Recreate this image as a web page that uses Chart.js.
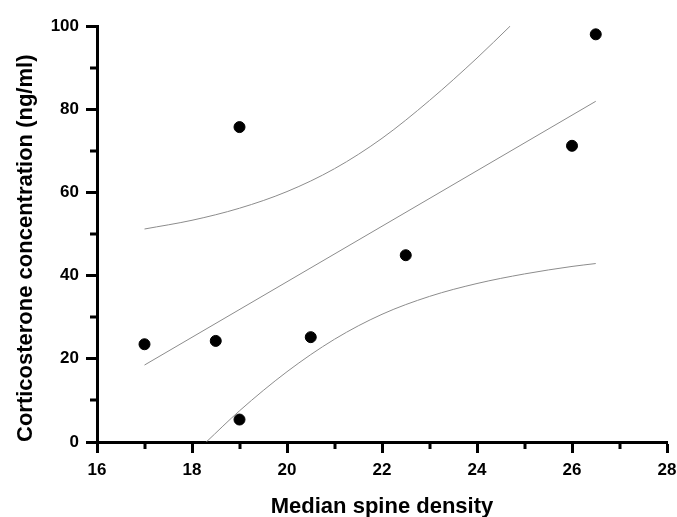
<!DOCTYPE html>
<html>
<head>
<meta charset="utf-8">
<script src="https://cdn.jsdelivr.net/npm/chart.js@4/dist/chart.umd.min.js"></script>
<style>
  html, body { margin: 0; padding: 0; background: #fff; }
  #wrap { width: 677px; height: 517px; }
</style>
</head>
<body>
<div id="wrap"><canvas id="spineChart" width="677" height="517"></canvas></div>
<script>
// measured points
const spineDensity = [17, 18.5, 19, 19, 20.5, 22.5, 26, 26.5];
const corticosterone = [23.5, 24.3, 5.4, 75.7, 25.2, 44.9, 71.2, 98.0];

// regression line and 95% bands
const fitX = [17, 26.5];
const fitY = [18.5, 81.9];
const upperX = [17, 18, 19, 20, 21, 22, 23, 24, 24.7];
const upperY = [51.2, 53.3, 56.2, 60.2, 65.7, 73.0, 82.1, 92.3, 100];
const lowerX = [18.3, 19, 20, 21, 22, 23, 24, 25, 26, 26.5];
const lowerY = [0, 7.5, 16.9, 24.7, 30.7, 35.0, 38.1, 40.4, 42.2, 42.9];

// axis ticks
const xMinorTicks = [17, 19, 21, 23, 25, 27];
const yMinorTicks = [10, 30, 50, 70, 90];

const toXY = (xs, ys) => xs.map((x, i) => ({ x: x, y: ys[i] }));

const minorTicks = {
    id: 'minorTicks',
    afterDraw(chart) {
        const { ctx, chartArea, scales: { x, y } } = chart;
        ctx.save();
        ctx.strokeStyle = '#000';
        ctx.lineWidth = 3;
        ctx.beginPath();
        xMinorTicks.forEach(v => {
            const px = Math.round(x.getPixelForValue(v));
            ctx.moveTo(px, chartArea.bottom);
            ctx.lineTo(px, chartArea.bottom + 7);
        });
        yMinorTicks.forEach(v => {
            const py = Math.round(y.getPixelForValue(v));
            ctx.moveTo(chartArea.left, py);
            ctx.lineTo(chartArea.left - 7, py);
        });
        ctx.stroke();
        ctx.restore();
    }
};

const bandStyle = {
    type: 'line',
    borderColor: '#8c8c8c',
    borderWidth: 1,
    pointRadius: 0,
    fill: false,
    cubicInterpolationMode: 'monotone'
};

const tickFont = { family: 'Liberation Sans, Arial, sans-serif', size: 17, weight: 'bold' };
const titleFont = { family: 'Liberation Sans, Arial, sans-serif', size: 22, weight: 'bold' };

new Chart(document.getElementById('spineChart'), {
    type: 'scatter',
    data: {
        datasets: [
            { ...bandStyle, label: 'Upper', data: toXY(upperX, upperY) },
            { ...bandStyle, label: 'Fit', data: toXY(fitX, fitY) },
            { ...bandStyle, label: 'Lower', data: toXY(lowerX, lowerY) },
            {
                label: 'Data',
                data: toXY(spineDensity, corticosterone),
                backgroundColor: '#000',
                borderColor: '#000',
                pointRadius: 5.5,
                pointHoverRadius: 5.5
            }
        ]
    },
    options: {
        responsive: false,
        animation: false,
        layout: { padding: { top: 26, right: 0, bottom: 0, left: 0 } },
        plugins: { legend: { display: false }, tooltip: { enabled: false } },
        scales: {
            x: {
                type: 'linear',
                min: 16,
                max: 28,
                afterFit: (scale) => { scale.height = 75; scale.paddingRight = 10; },
                ticks: { stepSize: 2, padding: 7, color: '#000', font: tickFont },
                grid: { drawOnChartArea: false, tickLength: 11, tickWidth: 3, tickColor: '#000' },
                border: { display: true, color: '#000', width: 3 },
                title: {
                    display: true,
                    text: 'Median spine density',
                    color: '#000',
                    padding: { top: 0, bottom: -3 },
                    font: titleFont
                }
            },
            y: {
                type: 'linear',
                min: 0,
                max: 100,
                afterFit: (scale) => { scale.width = 97; },
                ticks: { stepSize: 20, padding: 7, color: '#000', font: tickFont },
                grid: { drawOnChartArea: false, tickLength: 11, tickWidth: 3, tickColor: '#000' },
                border: { display: true, color: '#000', width: 3 },
                title: {
                    display: true,
                    text: 'Corticosterone concentration (ng/ml)',
                    color: '#000',
                    align: 'start',
                    padding: { top: 13, bottom: 0 },
                    font: titleFont
                }
            }
        }
    },
    plugins: [minorTicks]
});
</script>
</body>
</html>
